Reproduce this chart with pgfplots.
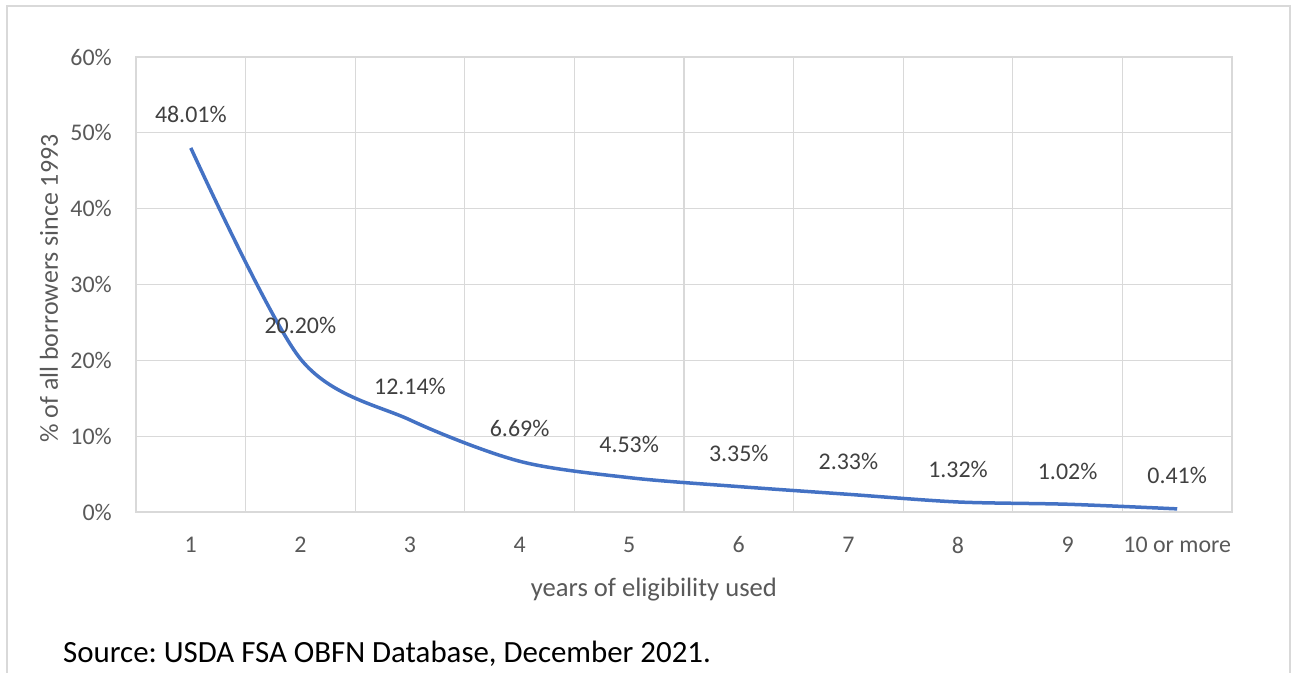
\documentclass[border=0pt]{standalone}
\usepackage{fontspec}
\setmainfont{Carlito}
\usepackage{pgfplots}
\pgfplotsset{compat=1.18}
\definecolor{gridc}{HTML}{D9D9D9}
\definecolor{txt}{HTML}{595959}
\definecolor{lbl}{HTML}{404040}
\definecolor{linec}{HTML}{4472C4}
\frenchspacing
\begin{document}
\begin{tikzpicture}[x=1bp,y=1bp]
\useasboundingbox (0,0) rectangle (1292,673);
\draw[gridc, line width=1.5bp] (7,-2) -- (7,667) -- (1290,667) -- (1290,-2);
\begin{axis}[
  at={(136bp,161bp)}, anchor=south west,
  scale only axis, width=1096bp, height=455bp,
  xmin=0.5, xmax=10.5, ymin=0, ymax=60,
  xtick={0.5,1.5,2.5,3.5,4.5,5.5,6.5,7.5,8.5,9.5,10.5},
  xticklabels={},
  extra x ticks={1,2,3,4,5,6,7,8,9,10},
  extra x tick labels={1,2,3,4,5,6,7,8,9,10 or more},
  extra x tick style={grid=none, major tick length=0pt},
  ytick={0,10,20,30,40,50,60},
  yticklabel={\pgfmathprintnumber{\tick}\%},
  /pgf/number format/assume math mode=true,
  xmajorgrids, ymajorgrids,
  major tick length=0pt, minor tick length=0pt,
  axis line style={gridc, line width=1.2bp},
  grid style={gridc, line width=1.2bp},
  tick label style={font=\fontsize{24}{28}\selectfont, text=txt, inner sep=0pt},
  xticklabel style={anchor=center, yshift=-33bp},
  yticklabel style={anchor=east, xshift=-24bp},
  xlabel={years of eligibility used},
  ylabel={\% of all borrowers since 1993},
  every axis x label/.style={at={(axis description cs:0.4726,0)}, anchor=center, yshift=-78bp, font=\fontsize{26.7}{30}\selectfont, text=txt},
  every axis y label/.style={at={(axis description cs:0,0.5)}, xshift=-87bp, yshift=-4bp, rotate=90, anchor=center, font=\fontsize{26}{30}\selectfont, text=txt},
  clip=false,
]
\addplot[linec, line width=3.5bp, smooth, tension=0.5,
  nodes near coords={\pgfmathprintnumber[fixed,fixed zerofill,precision=2]{\pgfplotspointmeta}\%},
  every node near coord/.append style={anchor=center, yshift=33bp, font=\fontsize{24}{28}\selectfont, text=lbl, inner sep=0pt}]
coordinates {(1,48.01) (2,20.20) (3,12.14) (4,6.69) (5,4.53) (6,3.35) (7,2.33) (8,1.32) (9,1.02) (10,0.41)};
\end{axis}
\node[anchor=base west, inner sep=0pt, font=\fontsize{31}{36}\selectfont] at (63,10) {Source: USDA FSA OBFN Database, December 2021.};
\end{tikzpicture}
\end{document}
